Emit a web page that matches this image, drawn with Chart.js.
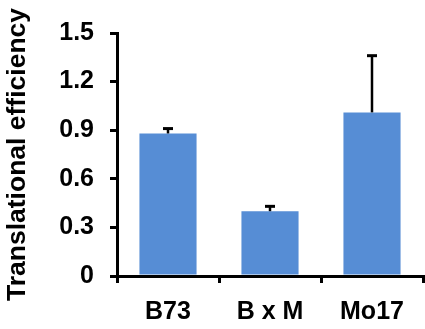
<!DOCTYPE html>
<html>
<head>
<meta charset="utf-8">
<script src="https://cdn.jsdelivr.net/npm/chart.js@4/dist/chart.umd.min.js"></script>
<style>
html,body{margin:0;padding:0;background:#fff;}
#wrap{width:425px;height:329px;position:relative;}
</style>
</head>
<body>
<div id="wrap"><canvas id="c"></canvas></div>
<script>
const categories = ["B73", "B x M", "Mo17"];
const efficiency = [0.88, 0.40, 1.01];
const errorUp = [0.03, 0.03, 0.35];
const yTicks = [0, 0.3, 0.6, 0.9, 1.2, 1.5];

const FONT = "'Liberation Sans', Arial, sans-serif";

const errorBars = {
  id: 'errorBars',
  afterDatasetsDraw(chart) {
    const ctx = chart.ctx;
    const meta = chart.getDatasetMeta(0);
    const y = chart.scales.y;
    ctx.save();
    ctx.strokeStyle = '#000';
    meta.data.forEach((bar, i) => {
      const x = bar.x;
      const yTop = y.getPixelForValue(efficiency[i] + errorUp[i]);
      const yBase = y.getPixelForValue(efficiency[i]);
      ctx.lineWidth = 2.5;
      ctx.beginPath();
      ctx.moveTo(x, yBase);
      ctx.lineTo(x, yTop);
      ctx.stroke();
      ctx.lineWidth = 3;
      ctx.beginPath();
      ctx.moveTo(x - 5, yTop);
      ctx.lineTo(x + 5, yTop);
      ctx.stroke();
    });
    ctx.restore();
  }
};

new Chart(document.getElementById('c'), {
  type: 'bar',
  data: {
    labels: categories,
    datasets: [{
      data: efficiency,
      backgroundColor: '#568dd5',
      borderWidth: 0,
      barPercentage: 0.56,
      categoryPercentage: 1.0
    }]
  },
  options: {
    responsive: true,
    maintainAspectRatio: false,
    animation: false,
    devicePixelRatio: 1,
    layout: { padding: { top: 33, right: 2, left: 0, bottom: 0 } },
    plugins: { legend: { display: false }, tooltip: { enabled: false } },
    scales: {
      x: {
        grid: { display: true, drawOnChartArea: false, offset: true, color: '#000', lineWidth: 3, tickLength: 7 },
        border: { display: true, color: '#000', width: 3 },
        ticks: { color: '#000', font: { family: FONT, size: 25, weight: 'bold' }, padding: 14, maxRotation: 0 },
        afterFit(scale) { scale.height = 53; }
      },
      y: {
        min: 0, max: 1.5,
        afterBuildTicks(scale) { scale.ticks = yTicks.map(v => ({ value: v })); },
        grid: { display: true, drawOnChartArea: false, color: '#000', lineWidth: 3, tickLength: 7 },
        border: { display: true, color: '#000', width: 3 },
        ticks: {
          color: '#000',
          font: { family: FONT, size: 25, weight: 'bold' },
          padding: 16,
          callback: v => v === 0 ? '0' : v.toFixed(1)
        },
        title: {
          display: true,
          text: 'Translational efficiency',
          color: '#000',
          font: { family: FONT, size: 26.5, weight: 'bold', lineHeight: 1.2 },
          padding: { top: 2, bottom: 0 }
        },
        afterFit(scale) { scale.width = 117; }
      }
    }
  },
  plugins: [errorBars]
});
</script>
</body>
</html>
